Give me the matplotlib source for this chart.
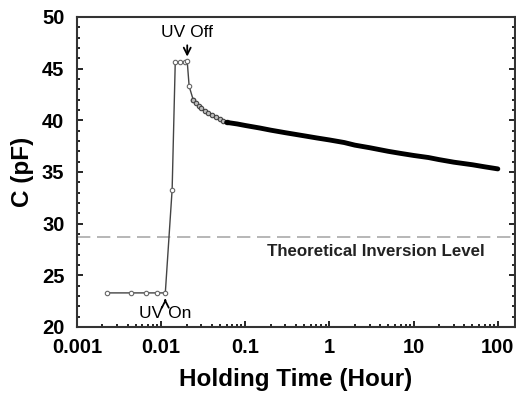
import numpy as np
from matplotlib import pyplot as plt
from matplotlib.ticker import FixedLocator, NullFormatter, LogLocator

plt.rcParams['font.family'] = ['Liberation Sans', 'DejaVu Sans']
plt.rcParams['font.weight'] = 'bold'

# sparse early points (hour, pF)
t_early = [0.00228, 0.0044, 0.0066, 0.0089, 0.0112, 0.0135, 0.0147, 0.0168,
           0.0193, 0.0204, 0.0215, 0.024]
c_early = [23.3, 23.3, 23.3, 23.3, 23.3, 33.3, 45.6, 45.6, 45.6, 45.7, 43.3, 42.0]

# dense decay points
t_dense = [0.024, 0.026, 0.028, 0.030, 0.033, 0.036, 0.040, 0.045, 0.050, 0.055,
           0.060, 0.08, 0.1, 0.15, 0.2, 0.3, 0.5, 0.7, 1, 1.5, 2, 3, 5, 7, 10,
           15, 20, 30, 50, 70, 100]
c_dense = [42.0, 41.7, 41.4, 41.2, 40.9, 40.7, 40.5, 40.3, 40.1, 39.95,
           39.8, 39.65, 39.5, 39.25, 39.05, 38.8, 38.5, 38.3, 38.1, 37.85, 37.6,
           37.35, 37.0, 36.8, 36.6, 36.4, 36.2, 35.95, 35.7, 35.5, 35.3]

inversion_level = 28.7

fig = plt.figure(figsize=(5.16, 4.01), dpi=100)
ax = fig.add_axes([77 / 516, 1 - 327 / 401, (515 - 77) / 516, (327 - 17) / 401])

ax.axhline(inversion_level, color='#aaaaaa', lw=1.2, dashes=(8, 4))
ax.plot(t_early, c_early, color='#444444', lw=1.0, marker='o', ms=3.2,
        mfc='white', mec='#666666', mew=0.8)
ax.plot(t_dense[:11], c_dense[:11], color='#333333', lw=1.8, marker='o', ms=3.2,
        mfc='#bbbbbb', mec='#444444', mew=0.8)
ax.plot(t_dense[10:], c_dense[10:], color='black', lw=3.5, solid_capstyle='round')

ax.set_xscale('log')
ax.set_xlim(0.001, 160)
ax.set_ylim(20, 50)
ax.set_xticks([0.001, 0.01, 0.1, 1, 10, 100])
ax.set_xticklabels(['0.001', '0.01', '0.1', '1', '10', '100'])
ax.xaxis.set_minor_locator(LogLocator(base=10, subs=np.arange(2, 10)))
ax.xaxis.set_minor_formatter(NullFormatter())
ax.set_yticks([20, 25, 30, 35, 40, 45, 50])
ax.yaxis.set_minor_locator(FixedLocator(np.arange(20, 51, 1)))

ax.tick_params(which='both', direction='in', top=False, right=True,
               labelsize=14.5, width=1.2)
ax.tick_params(axis='x', pad=8)
ax.tick_params(axis='y', pad=9)
ax.tick_params(which='major', length=4)
ax.tick_params(which='minor', length=2.5)
for s in ax.spines.values():
    s.set_linewidth(1.5)
    s.set_color('#333333')

ax.set_xlabel('Holding Time (Hour)', fontsize=17.5, fontweight='bold', labelpad=8)
ax.set_ylabel('C (pF)', fontsize=17.5, fontweight='bold', labelpad=6)

ax.annotate('UV Off', xy=(0.0204, 45.9), xytext=(0.0204, 47.8), ha='center',
            va='bottom', fontsize=12.5, fontweight='normal',
            arrowprops=dict(arrowstyle='->', color='black', lw=1.3))
ax.annotate('UV On', xy=(0.0112, 23.0), xytext=(0.0112, 21.3), ha='center',
            va='center', fontsize=12.5, fontweight='normal',
            arrowprops=dict(arrowstyle='->', color='black', lw=1.3))
ax.text(0.18, 27.3, 'Theoretical Inversion Level', fontsize=12.2,
        fontweight='bold', va='center', color='#222222')

fig.savefig('out.png', dpi=100)
